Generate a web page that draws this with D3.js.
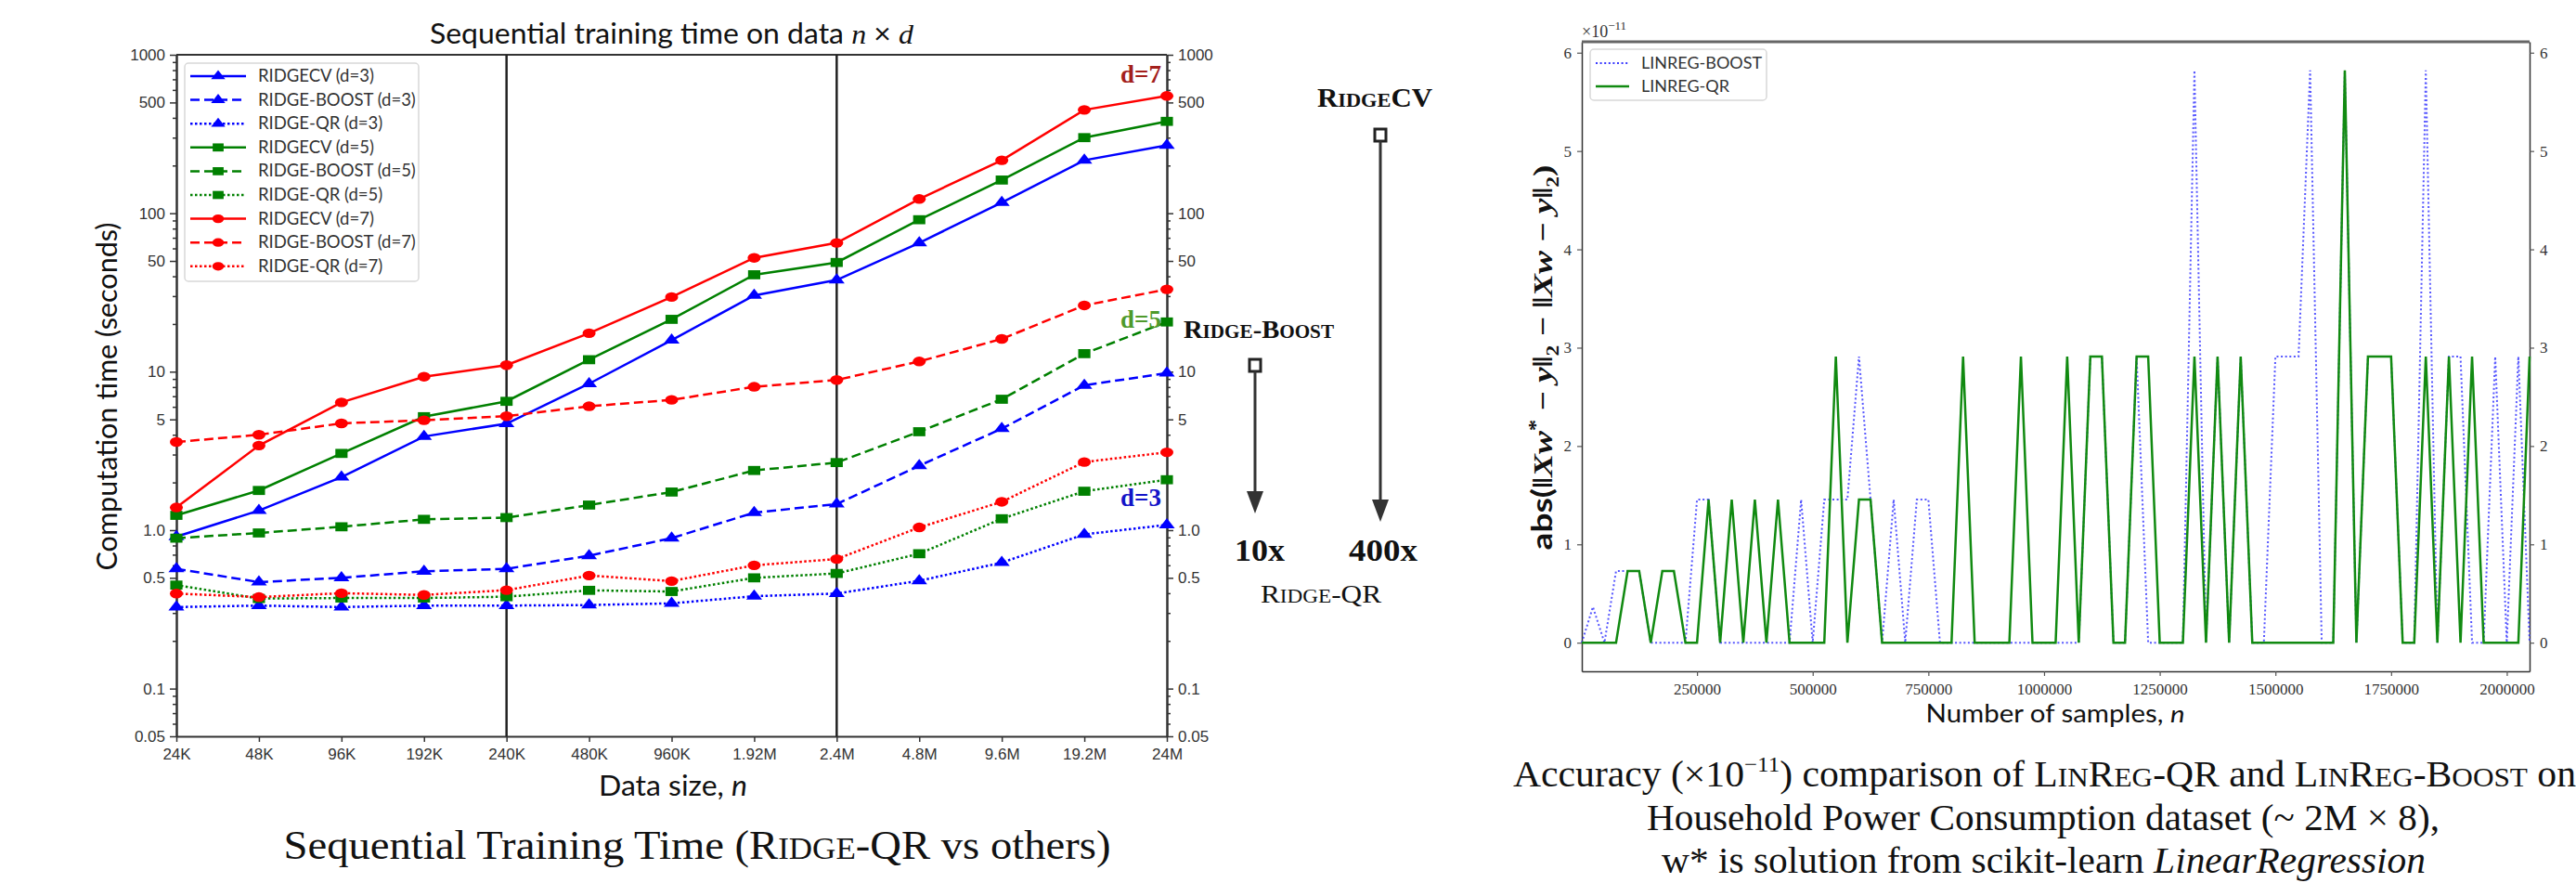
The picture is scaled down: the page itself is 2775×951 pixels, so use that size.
<!DOCTYPE html>
<html>
<head>
<meta charset="utf-8">
<script src="https://cdn.jsdelivr.net/npm/d3@7"></script>
<style>
  body { margin: 0; background: #fff; }
</style>
</head>
<body>
<div id="fig"></div>
<script>
// ---- left chart: sequential training time (seconds) ----
const sizes = ["24K", "48K", "96K", "192K", "240K", "480K", "960K", "1.92M", "2.4M", "4.8M", "9.6M", "19.2M", "24M"];
const splitSizes = ["240K", "2.4M"];

const ridgeCV3    = [0.91, 1.33, 2.16, 3.9, 4.7, 8.4, 15.8, 30.3, 37.9, 65, 117, 216, 268];
const ridgeBoost3 = [0.57, 0.47, 0.50, 0.55, 0.57, 0.69, 0.89, 1.29, 1.46, 2.55, 4.37, 8.2, 9.8];
const ridgeQR3    = [0.327, 0.334, 0.327, 0.334, 0.334, 0.337, 0.345, 0.383, 0.398, 0.479, 0.624, 0.94, 1.08];
const ridgeCV5    = [1.24, 1.78, 3.05, 5.2, 6.5, 11.9, 21.4, 40.9, 48.9, 91, 162, 300, 380];
const ridgeBoost5 = [0.89, 0.96, 1.05, 1.17, 1.2, 1.44, 1.74, 2.38, 2.67, 4.18, 6.7, 13.0, 20.6];
const ridgeQR5    = [0.45, 0.37, 0.373, 0.373, 0.38, 0.417, 0.41, 0.50, 0.533, 0.71, 1.18, 1.76, 2.08];
const ridgeCV7    = [1.39, 3.42, 6.4, 9.3, 11.0, 17.5, 29.6, 52.3, 65, 123, 216, 449, 550];
const ridgeBoost7 = [3.6, 4.0, 4.72, 4.94, 5.24, 6.05, 6.64, 8.03, 8.87, 11.6, 16.1, 26.2, 33.1];
const ridgeQR7    = [0.398, 0.378, 0.40, 0.39, 0.418, 0.517, 0.477, 0.60, 0.657, 1.04, 1.51, 2.69, 3.10];

const timeTicks = [0.05, 0.1, 0.5, 1, 5, 10, 50, 100, 500, 1000];
const timeTickLabels = ["0.05", "0.1", "0.5", "1.0", "5", "10", "50", "100", "500", "1000"];

// ---- right chart: accuracy (x 1e-11) ----
const samples = [1000, 25000, 50000, 75000, 100000, 125000, 150000, 175000, 200000, 225000,
  250000, 275000, 300000, 325000, 350000, 375000, 400000, 425000, 450000, 475000,
  500000, 525000, 550000, 575000, 600000, 625000, 650000, 675000, 700000, 725000,
  750000, 775000, 800000, 825000, 850000, 875000, 900000, 925000, 950000, 975000,
  1000000, 1025000, 1050000, 1075000, 1100000, 1125000, 1150000, 1175000, 1200000, 1225000,
  1250000, 1275000, 1300000, 1325000, 1350000, 1375000, 1400000, 1425000, 1450000, 1475000,
  1500000, 1525000, 1550000, 1575000, 1600000, 1625000, 1650000, 1675000, 1700000, 1725000,
  1750000, 1775000, 1800000, 1825000, 1850000, 1875000, 1900000, 1925000, 1950000, 1975000,
  2000000, 2025000, 2049280];

const linregQR = [
  0, 0, 0, 0, 0.728, 0.728, 0, 0.728, 0.728, 0,
  0, 1.455, 0, 1.455, 0, 1.455, 0, 1.455, 0, 0,
  0, 0, 2.91, 0, 1.455, 1.455, 0, 0, 0, 0,
  0, 0, 0, 2.91, 0, 0, 0, 0, 2.91, 0,
  0, 0, 2.91, 0, 2.91, 2.91, 0, 0, 2.91, 2.91,
  0, 0, 0, 2.91, 0, 2.91, 0, 2.91, 0, 0,
  0, 0, 0, 0, 0, 0, 5.82, 0, 2.91, 2.91,
  2.91, 0, 0, 2.91, 0, 2.91, 0, 2.91, 0, 0,
  0, 0, 2.91];

const linregBoost = [
  0, 0.364, 0, 0.728, 0.728, 0.728, 0, 0, 0, 0,
  1.455, 1.455, 0, 0, 0, 0, 0, 0, 0, 1.455,
  0, 1.455, 1.455, 1.455, 2.91, 1.455, 0, 1.455, 0, 1.455,
  1.455, 0, 0, 0, 0, 0, 0, 0, 0, 0,
  0, 0, 0, 0, 2.91, 2.91, 0, 0, 2.91, 0,
  0, 0, 0, 5.82, 0, 2.91, 0, 2.91, 0, 0,
  2.91, 2.91, 2.91, 5.82, 0, 0, 5.82, 0, 2.91, 2.91,
  2.91, 0, 0, 5.82, 0, 2.91, 2.91, 0, 0, 2.91,
  0, 2.91, 0];

const accTicks = [0, 1, 2, 3, 4, 5, 6];
const sampleTicks = [250000, 500000, 750000, 1000000, 1250000, 1500000, 1750000, 2000000];

(function() {
  const width = 2775
  const height = 951
  const sans = "Lato, 'DejaVu Sans', sans-serif"
  const serif = "'Liberation Serif', 'Times New Roman', serif"

  const svg = d3.select("#fig")
    .append("svg")
    .attr("width", width)
    .attr("height", height)
    .style("font-family", sans)

  // small caps helper: parts = [[text, isSmall], ...]
  function smallCaps(sel, parts, big, small) {
    parts.forEach(p => sel.append("tspan").attr("font-size", p[1] ? small : big).text(p[0]))
    return sel
  }

  // ================= LEFT CHART =================
  const L = {left: 190, right: 1257, top: 59, bottom: 793}
  const x = d3.scalePoint().domain(sizes).range([L.left, L.right])
  const y = d3.scaleLog().domain([0.05, 1000]).range([L.bottom, L.top])

  const gl = svg.append("g")

  // title
  const title = gl.append("text")
    .attr("x", (L.left + L.right) / 2).attr("y", 47)
    .attr("text-anchor", "middle").attr("font-size", 30).attr("fill", "#111")
    .attr("textLength", 521).attr("lengthAdjust", "spacingAndGlyphs")
  title.append("tspan").text("Sequential training time on data ")
  title.append("tspan").attr("font-family", serif).attr("font-style", "italic").text("n")
  title.append("tspan").text(" \u00d7 ")
  title.append("tspan").attr("font-family", serif).attr("font-style", "italic").text("d")

  // minor ticks of the log axis
  const minor = []
  for (let e = -2; e <= 2; e++) {
    for (let m = 2; m <= 9; m++) {
      const v = m * Math.pow(10, e)
      if (v > 0.05 && v < 1000 && m !== 5) minor.push(v)
    }
  }

  function styleAxis(g, size) {
    g.select(".domain").attr("stroke", "#333").attr("stroke-width", 2)
    g.selectAll(".tick line").attr("stroke", "#333").attr("stroke-width", 1.5)
    g.selectAll(".tick text").attr("fill", "#333").attr("font-size", size)
  }

  const fmtTime = d => timeTickLabels[timeTicks.indexOf(d)]

  gl.append("g").attr("transform", `translate(${L.left},0)`)
    .call(d3.axisLeft(y).tickValues(minor).tickSize(4).tickFormat("").tickSizeOuter(0))
    .call(g => styleAxis(g, 17))
  gl.append("g").attr("transform", `translate(${L.right},0)`)
    .call(d3.axisRight(y).tickValues(minor).tickSize(4).tickFormat("").tickSizeOuter(0))
    .call(g => styleAxis(g, 17))
  gl.append("g").attr("transform", `translate(${L.left},0)`)
    .call(d3.axisLeft(y).tickValues(timeTicks).tickFormat(fmtTime).tickSize(7).tickPadding(5).tickSizeOuter(0))
    .call(g => styleAxis(g, 17))
  gl.append("g").attr("transform", `translate(${L.right},0)`)
    .call(d3.axisRight(y).tickValues(timeTicks).tickFormat(fmtTime).tickSize(7).tickPadding(5).tickSizeOuter(0))
    .call(g => styleAxis(g, 17))
  gl.append("g").attr("transform", `translate(0,${L.bottom})`)
    .call(d3.axisBottom(x).tickSize(6).tickPadding(7).tickSizeOuter(0))
    .call(g => styleAxis(g, 17))
  // top spine
  gl.append("line")
    .attr("x1", L.left).attr("x2", L.right).attr("y1", L.top).attr("y2", L.top)
    .attr("stroke", "#333").attr("stroke-width", 2)

  // the two black vertical separators
  gl.selectAll(".split")
    .data(splitSizes)
    .join("line")
    .attr("class", "split")
    .attr("x1", d => x(d)).attr("x2", d => x(d))
    .attr("y1", L.top).attr("y2", L.bottom)
    .attr("stroke", "#222").attr("stroke-width", 2.5)

  // axis labels
  gl.append("text")
    .attr("transform", "translate(126,427) rotate(-90)")
    .attr("text-anchor", "middle").attr("font-size", 31).attr("fill", "#111")
    .attr("textLength", 375).attr("lengthAdjust", "spacingAndGlyphs")
    .text("Computation time (seconds)")
  const xl = gl.append("text")
    .attr("x", 725).attr("y", 857)
    .attr("text-anchor", "middle").attr("font-size", 31).attr("fill", "#111")
    .attr("textLength", 160).attr("lengthAdjust", "spacingAndGlyphs")
  xl.append("tspan").text("Data size, ")
  xl.append("tspan").attr("font-style", "italic").text("n")

  const blue = "#0000ff", green = "#008000", red = "#ff0000"
  const series = [
    {name: "RIDGECV (d=3)", values: ridgeCV3, color: blue, dash: null, sym: d3.symbolTriangle, size: 70},
    {name: "RIDGE-BOOST (d=3)", values: ridgeBoost3, color: blue, dash: "10,5", sym: d3.symbolTriangle, size: 70},
    {name: "RIDGE-QR (d=3)", values: ridgeQR3, color: blue, dash: "2.5,2.5", sym: d3.symbolTriangle, size: 70},
    {name: "RIDGECV (d=5)", values: ridgeCV5, color: green, dash: null, sym: d3.symbolSquare, size: 95},
    {name: "RIDGE-BOOST (d=5)", values: ridgeBoost5, color: green, dash: "10,5", sym: d3.symbolSquare, size: 95},
    {name: "RIDGE-QR (d=5)", values: ridgeQR5, color: green, dash: "2.5,2.5", sym: d3.symbolSquare, size: 95},
    {name: "RIDGECV (d=7)", values: ridgeCV7, color: red, dash: null, sym: d3.symbolCircle, size: 85},
    {name: "RIDGE-BOOST (d=7)", values: ridgeBoost7, color: red, dash: "10,5", sym: d3.symbolCircle, size: 85},
    {name: "RIDGE-QR (d=7)", values: ridgeQR7, color: red, dash: "2.5,2.5", sym: d3.symbolCircle, size: 85}
  ]

  const line = d3.line().x((d, i) => x(sizes[i])).y(d => y(d))

  series.forEach(s => {
    const g = gl.append("g")
    g.append("path")
      .attr("d", line(s.values))
      .attr("fill", "none")
      .attr("stroke", s.color)
      .attr("stroke-width", 2.5)
      .attr("stroke-dasharray", s.dash)
    g.selectAll("path.mk")
      .data(s.values)
      .join("path")
      .attr("class", "mk")
      .attr("d", d3.symbol().type(s.sym).size(s.size))
      .attr("transform", (d, i) => `translate(${x(sizes[i])},${y(d)}) scale(1.35,1)`)
      .attr("fill", s.color)
  })

  // legend
  const lg = gl.append("g")
  lg.append("rect")
    .attr("x", 199).attr("y", 68).attr("width", 252).attr("height", 235)
    .attr("rx", 4).attr("fill", "#fff").attr("fill-opacity", 0.85)
    .attr("stroke", "#d8d8d8").attr("stroke-width", 1.5)
  series.forEach((s, i) => {
    const ry = 82 + i * 25.6
    lg.append("line")
      .attr("x1", 205).attr("x2", 265).attr("y1", ry).attr("y2", ry)
      .attr("stroke", s.color).attr("stroke-width", 2.5).attr("stroke-dasharray", s.dash)
    lg.append("path")
      .attr("d", d3.symbol().type(s.sym).size(s.size * 0.8))
      .attr("transform", `translate(235,${ry}) scale(1.35,1)`)
      .attr("fill", s.color)
    lg.append("text")
      .attr("x", 278).attr("y", ry + 6)
      .attr("font-size", 18.5).attr("fill", "#333")
      .text(s.name)
  })

  // d= labels near the last points
  const last = sizes[sizes.length - 1]
  const dLabels = [
    {t: "d=7", v: ridgeCV7[12], color: "#a3201c", dy: -14},
    {t: "d=5", v: ridgeBoost5[12], color: "#4f9a2c", dy: 6},
    {t: "d=3", v: ridgeQR3[12], color: "#1414c8", dy: -20}
  ]
  dLabels.forEach(d => {
    gl.append("text")
      .attr("x", x(last) - 6).attr("y", y(d.v) + d.dy)
      .attr("text-anchor", "end")
      .attr("font-family", serif).attr("font-weight", "bold")
      .attr("font-size", 27).attr("fill", d.color)
      .text(d.t)
  })

  // speed-up annotations
  const ann = gl.append("g").attr("font-family", serif).attr("fill", "#111")
  smallCaps(ann.append("text").attr("x", 1275).attr("y", 364).attr("font-weight", "bold")
    .attr("textLength", 162).attr("lengthAdjust", "spacingAndGlyphs"),
    [["R", 0], ["IDGE", 1], ["-B", 0], ["OOST", 1]], 27, 20)
  smallCaps(ann.append("text").attr("x", 1419).attr("y", 115).attr("font-weight", "bold")
    .attr("textLength", 124).attr("lengthAdjust", "spacingAndGlyphs"),
    [["R", 0], ["IDGE", 1], ["CV", 0]], 29, 21)
  smallCaps(ann.append("text").attr("x", 1358).attr("y", 649)
    .attr("textLength", 130).attr("lengthAdjust", "spacingAndGlyphs"),
    [["R", 0], ["IDGE", 1], ["-QR", 0]], 27, 20)
  ann.append("text").attr("x", 1330).attr("y", 604).attr("font-weight", "bold")
    .attr("font-size", 34).attr("textLength", 54).attr("lengthAdjust", "spacingAndGlyphs").text("10x")
  ann.append("text").attr("x", 1453).attr("y", 604).attr("font-weight", "bold")
    .attr("font-size", 34).attr("textLength", 74).attr("lengthAdjust", "spacingAndGlyphs").text("400x")

  const arrows = [
    {cx: 1352, top: 387, tip: 553},
    {cx: 1487, top: 139, tip: 562}
  ]
  arrows.forEach(a => {
    ann.append("rect")
      .attr("x", a.cx - 6).attr("y", a.top).attr("width", 12).attr("height", 13)
      .attr("fill", "#fff").attr("stroke", "#222").attr("stroke-width", 3)
    ann.append("line")
      .attr("x1", a.cx).attr("x2", a.cx).attr("y1", a.top + 13).attr("y2", a.tip - 20)
      .attr("stroke", "#333").attr("stroke-width", 3)
    ann.append("path")
      .attr("d", `M${a.cx - 9},${a.tip - 24}L${a.cx + 9},${a.tip - 24}L${a.cx},${a.tip}Z`)
      .attr("fill", "#333")
  })

  // caption
  smallCaps(gl.append("text").attr("x", 751).attr("y", 925).attr("text-anchor", "middle")
    .attr("font-family", serif).attr("fill", "#111")
    .attr("textLength", 891).attr("lengthAdjust", "spacingAndGlyphs"),
    [["Sequential Training Time (R", 0], ["IDGE", 1], ["-QR vs others)", 0]], 44, 33)

  // ================= RIGHT CHART =================
  const R = {left: 1704, right: 2725, top: 45, bottom: 723}
  const xr = d3.scaleLinear().domain([samples[0], samples[samples.length - 1]]).range([R.left, R.right])
  const yr = d3.scaleLinear().domain([-0.291, 6.111]).range([R.bottom, R.top])

  const gr = svg.append("g")

  function styleR(g) {
    g.select(".domain").attr("stroke", "#333").attr("stroke-width", 1.5)
    g.selectAll(".tick line").attr("stroke", "#555").attr("stroke-width", 1.2)
    g.selectAll(".tick text").attr("fill", "#333").attr("font-size", 17).attr("font-family", serif)
  }
  gr.append("g").attr("transform", `translate(${R.left},0)`)
    .call(d3.axisLeft(yr).tickValues(accTicks).tickFormat(d3.format("d")).tickSize(5).tickPadding(6).tickSizeOuter(0))
    .call(styleR)
  gr.append("g").attr("transform", `translate(${R.right},0)`)
    .call(d3.axisRight(yr).tickValues(accTicks).tickFormat(d3.format("d")).tickSize(5).tickPadding(6).tickSizeOuter(0))
    .call(styleR)
  gr.append("g").attr("transform", `translate(0,${R.bottom})`)
    .call(d3.axisBottom(xr).tickValues(sampleTicks).tickFormat(d3.format("d")).tickSize(5).tickPadding(8).tickSizeOuter(0))
    .call(styleR)
  gr.append("line")
    .attr("x1", R.left).attr("x2", R.right).attr("y1", R.top).attr("y2", R.top)
    .attr("stroke", "#666").attr("stroke-width", 3)

  // offset text
  const off = gr.append("text").attr("x", R.left).attr("y", 40)
    .attr("font-family", serif).attr("font-size", 18).attr("fill", "#333")
  off.append("tspan").text("\u00d710")
  off.append("tspan").attr("dy", -8).attr("font-size", 13).text("\u221211")

  const lineR = d3.line().x((d, i) => xr(samples[i])).y(d => yr(d))
  gr.append("path")
    .attr("d", lineR(linregBoost))
    .attr("fill", "none").attr("stroke", "#3a3aff").attr("stroke-opacity", 0.85)
    .attr("stroke-width", 2).attr("stroke-dasharray", "2,2.6")
  gr.append("path")
    .attr("d", lineR(linregQR))
    .attr("fill", "none").attr("stroke", "#118a11")
    .attr("stroke-width", 2.5)

  // legend
  const lr = gr.append("g")
  lr.append("rect")
    .attr("x", 1713).attr("y", 53).attr("width", 190).attr("height", 55)
    .attr("rx", 4).attr("fill", "#fff").attr("fill-opacity", 0.85)
    .attr("stroke", "#d8d8d8").attr("stroke-width", 1.5)
  const rEntries = [
    {name: "LINREG-BOOST", color: "#3a3aff", dash: "2,2.6", w: 2},
    {name: "LINREG-QR", color: "#118a11", dash: null, w: 2.5}
  ]
  rEntries.forEach((e, i) => {
    const ry = 68 + i * 25
    lr.append("line")
      .attr("x1", 1719).attr("x2", 1755).attr("y1", ry).attr("y2", ry)
      .attr("stroke", e.color).attr("stroke-width", e.w).attr("stroke-dasharray", e.dash)
    lr.append("text").attr("x", 1768).attr("y", ry + 6)
      .attr("font-size", 18).attr("fill", "#333").text(e.name)
  })

  // axis labels
  const yl = gr.append("text")
    .attr("transform", "translate(1672,385) rotate(-90)")
    .attr("text-anchor", "middle").attr("font-size", 30).attr("font-weight", "bold").attr("fill", "#111")
    .attr("textLength", 415).attr("lengthAdjust", "spacingAndGlyphs")
  yl.append("tspan").attr("font-family", sans).text("abs(")
  yl.append("tspan").attr("font-family", serif).text("\u2016")
  yl.append("tspan").attr("font-family", serif).attr("font-style", "italic").text("Xw")
  yl.append("tspan").attr("font-family", serif).attr("font-size", 20).attr("dy", -11).text("*")
  yl.append("tspan").attr("font-family", serif).attr("dy", 11).text(" \u2212 ")
  yl.append("tspan").attr("font-family", serif).attr("font-style", "italic").text("y")
  yl.append("tspan").attr("font-family", serif).text("\u2016")
  yl.append("tspan").attr("font-family", serif).attr("font-size", 19).attr("dy", 7).text("2")
  yl.append("tspan").attr("font-family", serif).attr("dy", -7).text(" \u2212 \u2016")
  yl.append("tspan").attr("font-family", serif).attr("font-style", "italic").text("Xw")
  yl.append("tspan").attr("font-family", serif).text(" \u2212 ")
  yl.append("tspan").attr("font-family", serif).attr("font-style", "italic").text("y")
  yl.append("tspan").attr("font-family", serif).text("\u2016")
  yl.append("tspan").attr("font-family", serif).attr("font-size", 19).attr("dy", 7).text("2")
  yl.append("tspan").attr("font-family", serif).attr("dy", -7).text(")")

  const xlr = gr.append("text")
    .attr("x", 2214).attr("y", 778).attr("text-anchor", "middle")
    .attr("font-size", 26).attr("fill", "#111")
    .attr("textLength", 279).attr("lengthAdjust", "spacingAndGlyphs")
  xlr.append("tspan").text("Number of samples, ")
  xlr.append("tspan").attr("font-style", "italic").text("n")

  // caption
  const c1 = gr.append("text").attr("x", 1630).attr("y", 847)
    .attr("font-family", serif).attr("font-size", 40).attr("fill", "#111")
    .attr("textLength", 1145).attr("lengthAdjust", "spacingAndGlyphs")
  c1.append("tspan").text("Accuracy (\u00d710")
  c1.append("tspan").attr("font-size", 24).attr("dy", -16).text("\u221211")
  c1.append("tspan").attr("dy", 16).text(") comparison of ")
  smallCaps(c1, [["L", 0], ["IN", 1], ["R", 0], ["EG", 1], ["-QR and ", 0], ["L", 0], ["IN", 1], ["R", 0], ["EG", 1], ["-B", 0], ["OOST", 1], [" on", 0]], 40, 30)
  gr.append("text").attr("x", 1774).attr("y", 894)
    .attr("font-family", serif).attr("font-size", 40).attr("fill", "#111")
    .attr("textLength", 854).attr("lengthAdjust", "spacingAndGlyphs")
    .text("Household Power Consumption dataset (~ 2M \u00d7 8),")
  const c3 = gr.append("text").attr("x", 1790).attr("y", 940)
    .attr("font-family", serif).attr("font-size", 40).attr("fill", "#111")
    .attr("textLength", 823).attr("lengthAdjust", "spacingAndGlyphs")
  c3.append("tspan").text("w* is solution from scikit-learn ")
  c3.append("tspan").attr("font-style", "italic").text("LinearRegression")
})();
</script>
</body>
</html>
